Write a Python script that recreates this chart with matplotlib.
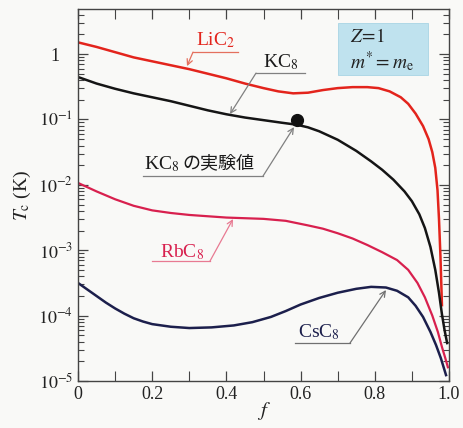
import numpy as np
import matplotlib
matplotlib.use("Agg")
import matplotlib.pyplot as plt
import matplotlib.transforms as mtransforms
from matplotlib.ticker import LogLocator, FixedLocator, NullFormatter, MultipleLocator

plt.rcParams['font.family'] = ['Liberation Serif', 'Noto Sans CJK JP', 'DejaVu Sans']
plt.rcParams['mathtext.fontset'] = 'stix'

# ---- data (f, log10 Tc) ----
li_f = [0, 0.05, 0.10, 0.15, 0.20, 0.25, 0.30, 0.35, 0.40, 0.45, 0.50, 0.54, 0.58,
        0.62, 0.66, 0.70, 0.74, 0.78, 0.81, 0.84, 0.87, 0.89, 0.91, 0.93, 0.945,
        0.955, 0.963, 0.969, 0.973, 0.977, 0.981]
li_log = [0.18, 0.11, 0.03, -0.05, -0.11, -0.17, -0.23, -0.30, -0.37, -0.45, -0.52,
          -0.57, -0.60, -0.59, -0.55, -0.52, -0.505, -0.505, -0.52, -0.57, -0.66,
          -0.76, -0.91, -1.10, -1.30, -1.50, -1.74, -2.08, -2.52, -3.10, -3.84]

k_f = [0, 0.025, 0.05, 0.075, 0.10, 0.15, 0.20, 0.25, 0.30, 0.35, 0.40, 0.45, 0.50,
       0.55, 0.59, 0.62, 0.65, 0.70, 0.75, 0.79, 0.82, 0.85, 0.88, 0.90, 0.92,
       0.935, 0.95, 0.963, 0.973, 0.981, 0.988, 0.995]
k_log = [-0.35, -0.40, -0.45, -0.49, -0.53, -0.60, -0.66, -0.72, -0.79, -0.86, -0.92,
         -0.97, -1.01, -1.05, -1.08, -1.12, -1.18, -1.31, -1.48, -1.64, -1.77, -1.92,
         -2.10, -2.25, -2.45, -2.66, -2.95, -3.30, -3.65, -3.98, -4.22, -4.42]

rb_f = [0, 0.05, 0.10, 0.15, 0.20, 0.25, 0.30, 0.35, 0.40, 0.45, 0.50, 0.56, 0.62,
        0.66, 0.70, 0.74, 0.78, 0.82, 0.86, 0.89, 0.915, 0.935, 0.955, 0.97, 0.981,
        0.99, 0.997]
rb_log = [-1.97, -2.10, -2.22, -2.32, -2.39, -2.43, -2.46, -2.48, -2.50, -2.51, -2.52,
          -2.55, -2.62, -2.67, -2.74, -2.82, -2.92, -3.03, -3.15, -3.30, -3.50, -3.72,
          -4.00, -4.25, -4.48, -4.65, -4.79]

cs_f = [0, 0.025, 0.05, 0.075, 0.10, 0.125, 0.15, 0.175, 0.20, 0.25, 0.30, 0.36,
        0.42, 0.47, 0.52, 0.56, 0.60, 0.65, 0.70, 0.75, 0.79, 0.83, 0.86, 0.89,
        0.91, 0.93, 0.95, 0.965, 0.978, 0.992]
cs_log = [-3.50, -3.60, -3.70, -3.80, -3.89, -3.97, -4.04, -4.09, -4.13, -4.17, -4.19,
          -4.18, -4.15, -4.10, -4.02, -3.93, -3.83, -3.73, -3.65, -3.59, -3.56, -3.57,
          -3.62, -3.72, -3.85, -4.02, -4.25, -4.45, -4.65, -4.91]

exp_f = [0.59]
exp_tc = [0.098]

x_ticks = [0, 0.2, 0.4, 0.6, 0.8, 1.0]
x_tick_labels = ['0', '0.2', '0.4', '0.6', '0.8', '1.0']
y_ticks = [1e-5, 1e-4, 1e-3, 1e-2, 1e-1, 1]
y_tick_labels = ['$10^{-5}$', '$10^{-4}$', '$10^{-3}$', '$10^{-2}$', '$10^{-1}$', '1']

c_li = '#e3241c'
c_k = '#151515'
c_rb = '#d8204e'
c_cs = '#1c1f4c'
bg = '#f9f9f7'

fig = plt.figure(figsize=(4.63, 4.28), dpi=100, facecolor=bg)
ax = fig.add_axes([78/463, 47/428, 371/463, 372/428])
ax.set_facecolor(bg)

def tc(logs):
    return [10 ** v for v in logs]

ax.plot(li_f, tc(li_log), color=c_li, lw=1.8, solid_joinstyle='round')
ax.plot(k_f, tc(k_log), color=c_k, lw=1.8, solid_joinstyle='round')
ax.plot(rb_f, tc(rb_log), color=c_rb, lw=1.6, solid_joinstyle='round')
ax.plot(cs_f, tc(cs_log), color=c_cs, lw=1.8, solid_joinstyle='round')
ax.plot(exp_f, exp_tc, 'o', color='#111111', ms=8.5, zorder=5)

ax.set_yscale('log')
ax.set_xlim(0, 1.0)
ax.set_ylim(1e-5, 4.9)

ax.set_xticks(x_ticks)
ax.set_xticklabels(x_tick_labels)
ax.xaxis.set_minor_locator(MultipleLocator(0.1))
ax.yaxis.set_major_locator(FixedLocator(y_ticks))
ax.set_yticklabels(y_tick_labels)
ax.yaxis.set_minor_locator(LogLocator(base=10, subs=np.arange(2, 10), numticks=20))
ax.yaxis.set_minor_formatter(NullFormatter())
ax.tick_params(which='both', direction='in', top=True, right=True, colors='#444444',
               labelcolor='#222222', labelsize=13)
ax.tick_params(which='major', length=7, width=0.9)
ax.tick_params(which='minor', length=4, width=0.8)
ax.tick_params(axis='x', which='minor', length=7)
for s in ax.spines.values():
    s.set_color('#444444')
    s.set_linewidth(1.0)

# shift the "1" label left so it lines up with the "10" of the other labels
one_tick = ax.yaxis.get_major_ticks()[-1]
one_tick.label1.set_transform(one_tick.label1.get_transform() +
                              mtransforms.ScaledTranslation(-0.14, 0, fig.dpi_scale_trans))

ax.set_xlabel('$f$', fontsize=15, labelpad=-2, color='#222222')
ax.set_ylabel('$T_\\mathrm{c}$ (K)', fontsize=14, labelpad=4, color='#222222')

def px(x, y):
    # pixel position in the reference -> data coords
    return ((x - 78) / 371, 10 ** ((381 - y) / 65.4 - 5))

def leader(ul0, ul1, start, target, lcolor):
    a, b = px(*ul0), px(*ul1)
    ax.plot([a[0], b[0]], [a[1], b[1]], color=lcolor, lw=0.9)
    ax.annotate('', xy=px(*target), xytext=px(*start),
                arrowprops=dict(arrowstyle='->', color=lcolor, lw=0.9,
                                shrinkA=0, shrinkB=0))

# LiC2
ax.text(*px(216, 40), 'LiC$_2$', color=c_li, fontsize=14, ha='center', va='center')
leader((193, 52), (238, 52), (193, 52), (187, 66), '#e4705e')

# KC8
ax.text(*px(281, 62), 'KC$_8$', color='#1a1a1a', fontsize=14, ha='center', va='center')
leader((256, 73), (305, 73), (256, 73), (230, 114), '#808080')

# KC8 experimental value
ax.text(*px(144, 164), 'KC$_8$', color='#1a1a1a', fontsize=14, ha='left', va='center')
ax.text(*px(182, 163), 'の実験値', color='#1a1a1a', fontsize=13, ha='left', va='center',
        family=['Noto Sans CJK JP'])
leader((143, 176), (263, 176), (263, 176), (294, 127), '#808080')

# RbC8
ax.text(*px(182, 252), 'RbC$_8$', color=c_rb, fontsize=14, ha='center', va='center')
leader((152, 261), (210, 261), (210, 261), (233, 219), '#e87a92')

# CsC8
ax.text(*px(319, 332), 'CsC$_8$', color=c_cs, fontsize=14, ha='center', va='center')
leader((295, 343), (350, 343), (350, 343), (386, 290), '#707070')

# parameter box
bx0, by0 = (338 - 78) / 371, (381 - 75) / 372
bw, bh = (428 - 338) / 371, (75 - 23) / 372
ax.add_patch(plt.Rectangle((bx0, by0), bw, bh, transform=ax.transAxes,
                           facecolor='#bfe2ee', edgecolor='#a8d4e4', lw=0.6, zorder=3))
ax.text((350 - 78) / 371, (381 - 37) / 372, '$Z\\!=\\!1$', transform=ax.transAxes,
        fontsize=14, ha='left', va='center', zorder=4, color='#222222')
ax.text((350 - 78) / 371, (381 - 62) / 372, '$m^{*}=m_\\mathrm{e}$', transform=ax.transAxes,
        fontsize=14, ha='left', va='center', zorder=4, color='#222222')

fig.savefig('out.png', dpi=100, facecolor=bg)
